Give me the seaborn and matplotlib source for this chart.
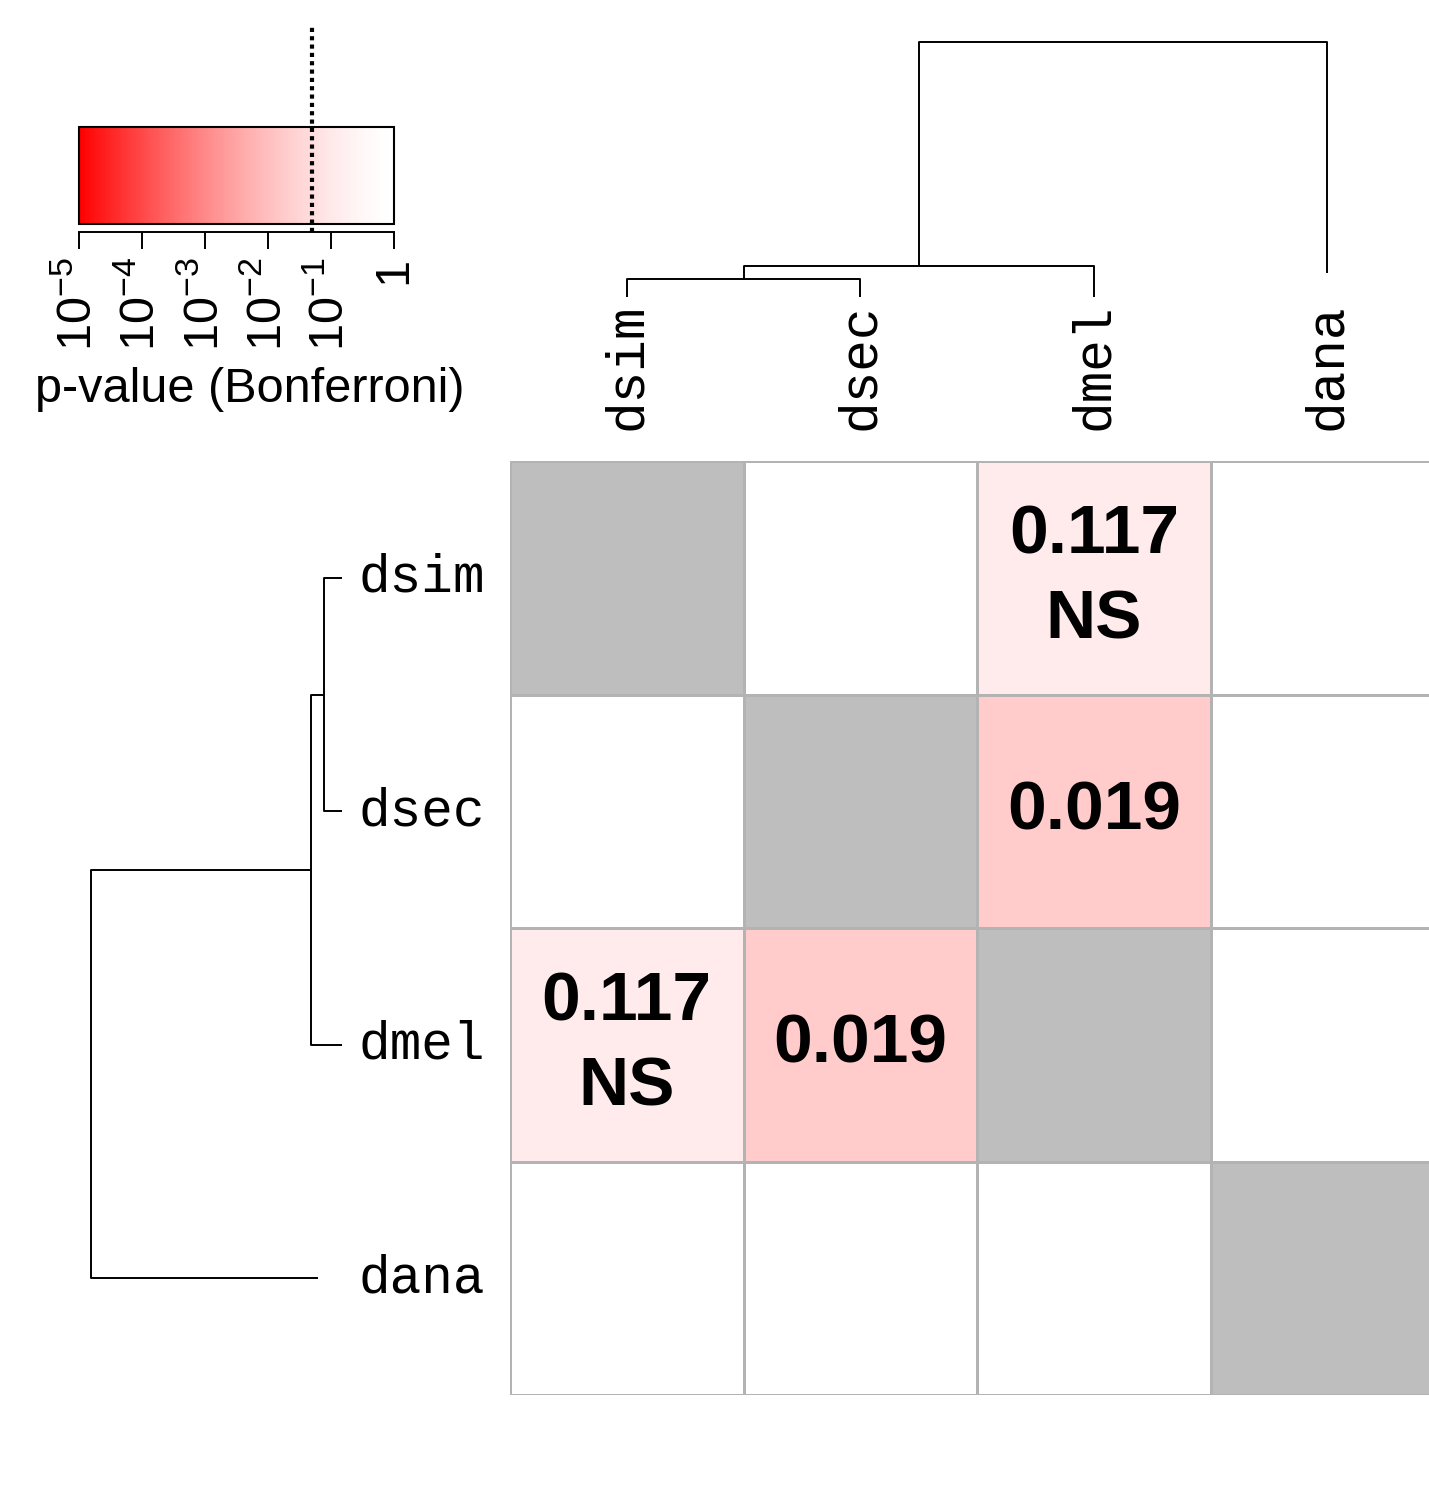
import numpy as np
import matplotlib
matplotlib.use("Agg")
import matplotlib.pyplot as plt
import seaborn as sns
from matplotlib.colors import LogNorm, ListedColormap

# Данные: виды и p-значения (Bonferroni), диагональ пустая
species = ["dsim", "dsec", "dmel", "dana"]
p_dsim = [np.nan, 1.0, 0.117, 1.0]
p_dsec = [1.0, np.nan, 0.019, 1.0]
p_dmel = [0.117, 0.019, np.nan, 1.0]
p_dana = [1.0, 1.0, 1.0, np.nan]

# Дендрограмма: слияния (a, b, высота) и концы листьев
merge_a = ["dsim", "c0", "c1"]
merge_b = ["dsec", "dmel", "dana"]
merge_h = [0.18, 0.31, 2.52]
leaf_end = [0.0, 0.0, 0.0, 0.24]

# Шкала цветов
key_ticks = [1e-5, 1e-4, 1e-3, 1e-2, 1e-1, 1]
key_labels = ["$10^{-5}$", "$10^{-4}$", "$10^{-3}$", "$10^{-2}$", "$10^{-1}$", "1"]
alpha = 0.05

W, H = 1429, 1505


def px(x0, y0, x1, y1):
    return [x0 / W, 1 - y1 / H, (x1 - x0) / W, (y1 - y0) / H]


def draw_dendro(ax, side):
    pos = {s: i + 0.5 for i, s in enumerate(species)}
    hgt = {s: leaf_end[i] for i, s in enumerate(species)}
    for k, (a, b, h) in enumerate(zip(merge_a, merge_b, merge_h)):
        xs = [pos[a], pos[a], pos[b], pos[b]]
        ys = [hgt[a], h, h, hgt[b]]
        if side == "top":
            ax.plot(xs, ys, color="black", lw=1.4, solid_capstyle="butt")
        else:
            ax.plot(ys, xs, color="black", lw=1.4, solid_capstyle="butt")
        pos[f"c{k}"] = (pos[a] + pos[b]) / 2
        hgt[f"c{k}"] = h


sns.set_style("white")
plt.rcParams["font.family"] = ["Liberation Sans", "DejaVu Sans"]
plt.rcParams["mathtext.fontset"] = "custom"
plt.rcParams["mathtext.rm"] = "Liberation Sans"
plt.rcParams["mathtext.it"] = "Liberation Sans"
plt.rcParams["text.color"] = "black"
plt.rcParams["xtick.color"] = "black"
plt.rcParams["ytick.color"] = "black"
plt.rcParams["xtick.labelcolor"] = "black"
plt.rcParams["ytick.labelcolor"] = "black"

mat = np.array([p_dsim, p_dsec, p_dmel, p_dana])
annot = np.empty(mat.shape, dtype=object)
for i in range(4):
    for j in range(4):
        v = mat[i, j]
        if np.isnan(v) or v >= 1:
            annot[i, j] = ""
        else:
            annot[i, j] = f"{v:.3f}" + ("\nNS" if v > alpha else "")

# красно-белая палитра
t = np.linspace(0, 1, 256)
f = (1 - t) ** 1.5
cmap = ListedColormap(np.column_stack([np.ones_like(t), 1 - f, 1 - f]))
cmap.set_bad("#bebebe")

fig = plt.figure(figsize=(W / 100, H / 100), dpi=100)

cax = fig.add_axes(px(79, 127, 394, 224))
ax = fig.add_axes(px(510, 461, 1444, 1395))
sns.heatmap(
    mat, ax=ax, cmap=cmap, norm=LogNorm(vmin=1e-5, vmax=1),
    annot=annot, fmt="", linewidths=1.0, linecolor="#b3b3b3",
    annot_kws={"fontsize": 50, "fontweight": "bold", "color": "black",
               "linespacing": 1.42},
    cbar_ax=cax, cbar_kws={"orientation": "horizontal"},
    xticklabels=species, yticklabels=species,
)
ax.set_facecolor("#bebebe")
ax.xaxis.tick_top()
ax.tick_params(axis="x", length=0, pad=22, labelrotation=90)
ax.tick_params(axis="y", length=0, pad=18, labelrotation=0)
for lab in ax.get_xticklabels() + ax.get_yticklabels():
    lab.set_fontfamily("Liberation Mono")
    lab.set_fontsize(38)
    lab.set_color("black")

cbar = ax.collections[0].colorbar
cbar.outline.set_linewidth(1.5)
cbar.outline.set_edgecolor("black")
cbar.ax.tick_params(which="both", length=0, labelbottom=False, labeltop=False)
cbar.ax.xaxis.set_major_locator(matplotlib.ticker.NullLocator())
cbar.ax.xaxis.set_minor_locator(matplotlib.ticker.NullLocator())

# ось шкалы с порогом
kax = fig.add_axes(px(79, 24, 394, 232))
kax.patch.set_alpha(0)
kax.set_xscale("log")
kax.set_xlim(1e-5, 1)
kax.set_ylim(0, 1)
for s in ["top", "left", "right"]:
    kax.spines[s].set_visible(False)
kax.spines["bottom"].set_linewidth(1.4)
kax.spines["bottom"].set_color("black")
kax.set_yticks([])
kax.set_xticks(key_ticks)
kax.set_xticklabels(key_labels, rotation=90, fontsize=35)
kax.xaxis.set_minor_locator(matplotlib.ticker.NullLocator())
kax.tick_params(axis="x", length=12, width=1.4, pad=6, direction="out", bottom=True)
kax.axvline(alpha, color="black", lw=3, linestyle=(0, (1, 1)))
fig.text(250 / W, 1 - 390 / H, "p-value (Bonferroni)", fontsize=35,
         ha="center", va="center")

# верхняя дендрограмма
tax = fig.add_axes(px(510, 42, 1444, 297))
draw_dendro(tax, "top")
tax.set_xlim(0, 4)
tax.set_ylim(0, merge_h[-1])
tax.axis("off")
for ln in tax.lines:
    ln.set_clip_on(False)

# левая дендрограмма
lax = fig.add_axes(px(91, 461, 342, 1395))
draw_dendro(lax, "left")
lax.set_xlim(merge_h[-1], 0)
lax.set_ylim(4, 0)
lax.axis("off")
for ln in lax.lines:
    ln.set_clip_on(False)

fig.savefig("out.png", dpi=100, facecolor="white")
